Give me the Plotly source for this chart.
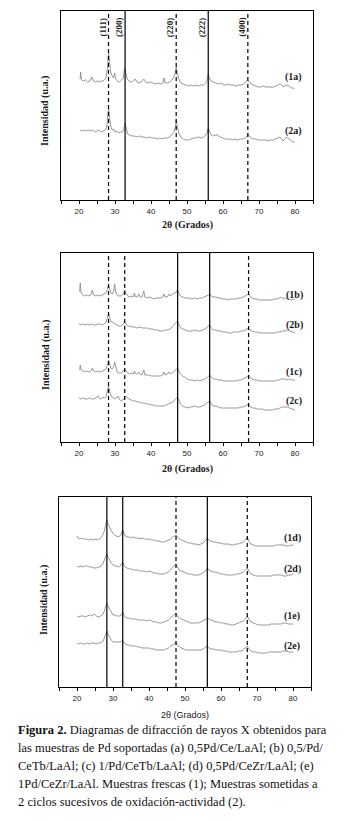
import plotly.graph_objects as go

# ---------------- DATA ----------------
PEAK_LABELS = ["(111)", "(200)", "(220)", "(222)", "(400)"]
PEAKS_A = [28.2, 32.8, 47.0, 55.9, 66.9]
PEAKS_B = [28.2, 32.7, 47.4, 56.3, 67.1]
PEAKS_C = [28.3, 32.7, 47.5, 56.2, 67.3]

TR_1A = [(20.3,121),(20.45,128),(20.7,120),(21.2,119),(21.8,120),(22.4,118),(23.0,119),(23.6,123),(24.0,119),(24.6,118),(25.2,119),(25.8,118),(26.4,119),(27.0,120),(27.5,122),(27.9,131),(28.2,148),(28.5,138),(28.8,128),(29.2,124),(29.6,122),(29.9,127),(30.2,121),(30.7,119),(31.2,118),(31.8,120),(32.3,122),(32.7,132),(33.0,128),(33.4,121),(33.9,119),(34.5,118),(35.1,119),(35.6,121),(36.1,118),(36.7,117),(37.3,118),(38.0,121),(38.5,118),(39.2,117),(39.9,118),(40.6,117),(41.3,116),(42.0,117),(42.7,116),(43.3,117),(43.6,122),(43.9,117),(44.5,117),(45.2,118),(45.8,120),(46.3,123),(46.7,127),(47.0,133),(47.3,127),(47.7,121),(48.3,117),(49.0,116),(49.7,115),(50.4,114),(51.1,115),(51.8,114),(52.5,115),(53.2,114),(53.9,115),(54.6,115),(55.2,117),(55.6,120),(55.9,126),(56.2,122),(56.7,119),(57.3,118),(58.0,117),(58.7,116),(59.4,117),(60.1,115),(60.8,115),(61.5,116),(62.2,115),(62.9,115),(63.6,114),(64.3,115),(65.0,115),(65.7,116),(66.3,118),(66.9,120),(67.3,118),(67.8,116),(68.4,115),(69.1,114),(69.8,113),(70.5,113),(71.2,114),(71.9,113),(72.6,113),(73.3,113),(74.0,113),(74.7,114),(75.3,115),(75.8,116),(76.3,115),(76.7,113),(77.1,114),(77.6,115),(78.0,115),(78.5,113),(79.0,112),(79.5,112),(79.9,111)]
TR_2A = [(20.3,70),(20.8,69),(21.4,70),(22.0,69),(22.6,70),(23.2,69),(23.8,70),(24.4,68),(25.0,69),(25.6,70),(26.2,68),(26.8,69),(27.3,70),(27.7,73),(28.0,84),(28.2,92),(28.5,82),(28.8,74),(29.2,70),(29.6,71),(30.0,68),(30.5,69),(31.0,67),(31.5,68),(32.0,68),(32.4,70),(32.8,77),(33.1,72),(33.5,66),(34.0,65),(34.7,64),(35.4,64),(36.1,63),(36.8,64),(37.5,63),(38.2,63),(38.9,62),(39.6,63),(40.3,62),(41.0,62),(41.7,61),(42.4,62),(43.1,61),(43.8,62),(44.5,62),(45.2,63),(45.8,65),(46.4,68),(46.8,73),(47.0,80),(47.3,74),(47.7,67),(48.3,63),(49.0,61),(49.7,60),(50.4,60),(51.1,61),(51.8,62),(52.5,62),(53.2,63),(53.9,62),(54.6,63),(55.2,65),(55.6,67),(55.9,72),(56.2,69),(56.7,65),(57.3,64),(57.9,65),(58.5,65),(59.2,63),(59.9,62),(60.6,61),(61.3,61),(62.0,61),(62.7,60),(63.4,61),(64.1,60),(64.8,61),(65.5,61),(66.1,62),(66.6,63),(66.9,66),(67.3,64),(67.8,62),(68.4,61),(69.1,61),(69.8,60),(70.5,60),(71.2,60),(71.9,60),(72.6,59),(73.3,60),(74.0,60),(74.7,61),(75.3,62),(75.8,63),(76.3,61),(76.7,59),(77.2,61),(77.6,63),(78.0,62),(78.5,60),(79.0,59),(79.5,58),(79.9,58)]

TR_1B = [(20.2,150),(20.35,159),(20.6,149),(21.0,147),(21.6,146),(22.2,147),(22.8,146),(23.3,147),(23.7,152),(24.1,147),(24.7,146),(25.3,147),(25.9,146),(26.5,147),(27.0,148),(27.5,149),(27.9,153),(28.2,157),(28.5,153),(28.8,149),(29.2,148),(29.6,150),(29.9,158),(30.2,150),(30.6,147),(31.1,146),(31.6,146),(32.1,147),(32.4,149),(32.7,152),(33.0,149),(33.5,146),(34.0,145),(34.6,146),(35.1,145),(35.4,149),(35.7,145),(36.2,145),(36.6,148),(37.0,145),(37.5,145),(38.0,151),(38.3,145),(38.9,144),(39.5,145),(40.1,144),(40.8,143),(41.4,144),(42.0,144),(42.6,144),(43.2,145),(43.6,148),(43.9,145),(44.5,145),(45.0,148),(45.3,146),(45.8,147),(46.3,149),(46.8,149),(47.1,150),(47.4,152),(47.7,149),(48.2,146),(48.8,145),(49.4,144),(50.0,144),(50.7,144),(51.4,143),(52.1,144),(52.8,143),(53.5,144),(54.2,144),(54.9,145),(55.5,146),(56.0,147),(56.3,148),(56.7,146),(57.3,145),(58.0,145),(58.7,144),(59.4,144),(60.1,143),(60.8,143),(61.5,142),(62.2,143),(62.9,143),(63.6,143),(64.3,144),(65.0,144),(65.6,145),(66.2,146),(66.7,147),(67.1,148),(67.5,146),(68.0,144),(68.7,143),(69.4,143),(70.1,142),(70.8,142),(71.5,142),(72.2,142),(72.9,142),(73.6,142),(74.3,143),(75.0,143),(75.6,144),(76.1,145),(76.6,143),(77.2,144),(77.8,143),(78.4,143),(79.0,142),(79.6,143),(80.0,142)]
TR_2B = [(20.0,118),(20.5,117),(21.1,118),(21.7,117),(22.3,118),(22.9,117),(23.5,118),(24.1,117),(24.7,117),(25.3,118),(25.9,118),(26.5,117),(27.0,118),(27.5,120),(27.9,124),(28.2,129),(28.5,125),(28.8,121),(29.2,120),(29.6,119),(30.0,118),(30.5,117),(31.0,116),(31.5,116),(32.0,117),(32.4,118),(32.7,120),(33.0,118),(33.5,116),(34.1,116),(34.8,115),(35.5,115),(36.2,114),(36.9,115),(37.6,114),(38.3,114),(39.0,114),(39.7,113),(40.4,113),(41.1,112),(41.8,112),(42.5,111),(43.2,111),(43.9,112),(44.6,112),(45.3,113),(45.9,115),(46.5,117),(47.0,119),(47.4,121),(47.8,117),(48.3,114),(48.9,113),(49.5,112),(50.1,111),(50.8,111),(51.5,111),(52.2,112),(52.9,111),(53.6,111),(54.3,112),(55.0,113),(55.6,115),(56.0,116),(56.3,117),(56.7,114),(57.3,112),(58.0,112),(58.7,111),(59.4,111),(60.1,110),(60.8,110),(61.5,109),(62.2,109),(62.9,110),(63.6,110),(64.3,110),(65.0,111),(65.6,111),(66.2,112),(66.7,113),(67.1,114),(67.5,112),(68.1,111),(68.8,110),(69.5,110),(70.2,109),(70.9,109),(71.6,109),(72.3,109),(73.0,109),(73.7,109),(74.4,109),(75.1,110),(75.8,110),(76.5,111),(77.2,111),(77.9,112),(78.5,111),(79.1,110),(79.7,109),(80.0,109)]
TR_1C = [(20.2,72),(20.35,77),(20.6,72),(21.0,71),(21.6,70),(22.2,71),(22.8,70),(23.3,71),(23.7,74),(24.1,71),(24.7,70),(25.3,71),(25.9,70),(26.5,71),(27.0,72),(27.5,73),(27.9,77),(28.2,82),(28.5,78),(28.8,74),(29.2,73),(29.6,75),(29.9,80),(30.2,74),(30.6,70),(31.1,69),(31.6,69),(32.1,70),(32.4,71),(32.7,73),(33.0,71),(33.5,69),(34.0,68),(34.6,69),(35.1,68),(35.4,71),(35.7,68),(36.2,68),(36.6,70),(37.0,68),(37.5,67),(38.0,72),(38.3,67),(38.9,67),(39.5,67),(40.1,66),(40.8,66),(41.4,66),(42.0,66),(42.6,66),(43.2,67),(43.6,70),(43.9,67),(44.5,68),(45.0,70),(45.3,68),(45.8,69),(46.3,71),(46.8,72),(47.1,73),(47.4,74),(47.7,71),(48.2,68),(48.8,66),(49.4,65),(50.0,63),(50.7,62),(51.4,62),(52.1,61),(52.8,62),(53.5,61),(54.2,62),(54.9,63),(55.5,64),(56.0,66),(56.3,67),(56.7,65),(57.3,63),(58.0,63),(58.7,62),(59.4,62),(60.1,61),(60.8,61),(61.5,61),(62.2,61),(62.9,61),(63.6,61),(64.3,62),(65.0,62),(65.6,63),(66.2,64),(66.7,65),(67.1,67),(67.5,65),(68.0,63),(68.7,62),(69.4,62),(70.1,61),(70.8,61),(71.5,61),(72.2,61),(72.9,61),(73.6,61),(74.3,61),(75.0,62),(75.6,62),(76.1,63),(76.6,63),(77.2,63),(77.8,62),(78.4,63),(79.0,62),(79.6,62),(80.0,62)]
TR_2C = [(20.0,44),(20.5,43),(21.1,44),(21.7,43),(22.3,43),(22.9,44),(23.5,43),(24.1,43),(24.7,44),(25.2,46),(25.6,44),(26.1,43),(26.6,45),(27.0,44),(27.5,45),(27.9,50),(28.2,56),(28.5,51),(28.8,47),(29.2,45),(29.6,44),(30.0,43),(30.4,44),(30.8,46),(31.2,43),(31.7,41),(32.1,42),(32.4,43),(32.7,45),(33.0,46),(33.4,44),(33.9,43),(34.5,42),(35.1,41),(35.7,41),(36.3,40),(36.9,40),(37.5,39),(38.1,39),(38.7,38),(39.3,38),(40.0,37),(40.7,37),(41.4,36),(42.1,36),(42.8,36),(43.5,36),(44.2,37),(44.9,38),(45.5,39),(46.1,40),(46.6,42),(47.0,44),(47.4,45),(47.7,42),(48.2,38),(48.8,36),(49.4,35),(50.0,34),(50.7,35),(51.4,35),(52.1,36),(52.8,35),(53.5,35),(54.2,36),(54.9,37),(55.5,39),(56.0,40),(56.3,41),(56.7,38),(57.3,36),(58.0,36),(58.7,35),(59.4,34),(60.1,34),(60.8,34),(61.5,34),(62.2,34),(62.9,34),(63.6,34),(64.3,34),(65.0,35),(65.6,35),(66.2,36),(66.7,37),(67.1,38),(67.5,36),(68.1,34),(68.8,34),(69.5,33),(70.2,33),(70.9,33),(71.6,32),(72.3,32),(73.0,32),(73.7,32),(74.4,33),(75.1,33),(75.8,34),(76.5,35),(77.2,35),(77.9,35),(78.5,34),(79.1,33),(79.7,32),(80.0,32)]

TR_1D = [(20.0,151),(20.3,149),(20.8,148),(21.4,149),(22.0,148),(22.6,148),(23.2,147),(23.8,148),(24.4,147),(25.0,148),(25.6,147),(26.1,148),(26.6,149),(27.0,151),(27.4,154),(27.8,159),(28.1,164),(28.3,167),(28.6,163),(29.0,160),(29.4,157),(29.9,154),(30.4,152),(30.9,151),(31.4,150),(31.9,151),(32.3,153),(32.7,157),(33.0,154),(33.4,151),(33.9,150),(34.5,150),(35.1,149),(35.7,150),(36.3,149),(36.9,149),(37.5,148),(38.1,149),(38.7,148),(39.3,148),(40.0,148),(40.7,147),(41.4,147),(42.1,146),(42.8,146),(43.5,145),(44.2,145),(44.8,146),(45.4,147),(46.0,148),(46.6,150),(47.1,151),(47.5,152),(47.9,150),(48.4,148),(49.0,147),(49.6,146),(50.2,145),(50.9,144),(51.6,144),(52.3,143),(53.0,143),(53.7,142),(54.4,143),(55.0,144),(55.5,146),(55.9,147),(56.2,149),(56.6,147),(57.2,146),(57.9,145),(58.6,145),(59.3,144),(60.0,144),(60.7,143),(61.4,143),(62.1,143),(62.8,142),(63.5,142),(64.2,143),(64.9,143),(65.6,144),(66.2,145),(66.8,147),(67.3,150),(67.7,146),(68.3,143),(69.0,142),(69.7,141),(70.4,141),(71.1,141),(71.8,141),(72.5,141),(73.2,141),(73.9,141),(74.6,141),(75.3,142),(76.0,142),(76.7,142),(77.4,142),(78.1,141),(78.8,141),(79.5,142),(80.1,142)]
TR_2D = [(20.0,121),(20.5,120),(21.1,121),(21.7,120),(22.3,121),(22.9,121),(23.5,120),(24.1,120),(24.7,119),(25.3,119),(25.9,120),(26.4,120),(26.9,122),(27.3,124),(27.7,128),(28.0,131),(28.3,133),(28.6,130),(29.0,127),(29.5,124),(30.0,122),(30.5,121),(31.0,121),(31.5,120),(32.0,121),(32.4,123),(32.7,125),(33.0,122),(33.4,120),(33.9,119),(34.5,118),(35.1,118),(35.7,117),(36.3,117),(36.9,117),(37.5,116),(38.1,116),(38.7,116),(39.3,115),(40.0,116),(40.7,115),(41.4,114),(42.1,114),(42.8,113),(43.5,113),(44.2,113),(44.8,114),(45.4,115),(46.0,117),(46.6,119),(47.1,121),(47.5,123),(47.9,120),(48.4,117),(49.0,116),(49.6,115),(50.2,114),(50.9,113),(51.6,113),(52.3,112),(53.0,112),(53.7,112),(54.4,113),(55.0,114),(55.5,116),(55.9,117),(56.2,119),(56.6,117),(57.2,116),(57.9,115),(58.6,115),(59.3,114),(60.0,113),(60.7,113),(61.4,112),(62.1,112),(62.8,112),(63.5,112),(64.2,113),(64.9,113),(65.6,114),(66.2,115),(66.8,117),(67.3,119),(67.7,116),(68.3,113),(69.0,112),(69.7,111),(70.4,111),(71.1,111),(71.8,111),(72.5,111),(73.2,111),(73.9,111),(74.6,112),(75.3,112),(76.0,112),(76.7,112),(77.4,111),(78.1,111),(78.8,112),(79.5,112),(80.1,113)]
TR_1E = [(20.0,71),(20.5,70),(21.1,71),(21.7,71),(22.3,70),(22.9,71),(23.5,72),(24.1,71),(24.8,73),(25.4,71),(26.0,70),(26.5,71),(27.0,72),(27.4,74),(27.8,78),(28.1,82),(28.3,84),(28.6,81),(29.0,78),(29.5,75),(30.0,72),(30.5,72),(31.0,71),(31.5,71),(32.0,71),(32.4,73),(32.7,75),(33.0,72),(33.4,70),(33.9,69),(34.5,69),(35.1,68),(35.7,68),(36.3,68),(36.9,67),(37.5,67),(38.1,67),(38.7,67),(39.3,66),(40.0,67),(40.7,66),(41.4,65),(42.1,65),(42.8,64),(43.5,64),(44.2,65),(44.8,66),(45.4,67),(46.0,69),(46.6,71),(47.1,73),(47.5,74),(47.9,71),(48.4,69),(49.0,68),(49.6,67),(50.2,66),(50.9,65),(51.6,64),(52.3,64),(53.0,64),(53.7,64),(54.4,65),(55.0,66),(55.5,67),(55.9,68),(56.2,69),(56.6,68),(57.2,67),(57.9,66),(58.6,65),(59.3,65),(60.0,64),(60.7,64),(61.4,63),(62.1,63),(62.8,62),(63.5,62),(64.2,63),(64.9,64),(65.6,65),(66.2,66),(66.8,68),(67.3,71),(67.7,68),(68.3,65),(69.0,64),(69.7,63),(70.4,62),(71.1,62),(71.8,62),(72.5,62),(73.2,62),(73.9,63),(74.6,63),(75.3,63),(76.0,63),(76.7,63),(77.4,64),(78.1,64),(78.8,63),(79.5,63),(80.1,63)]
TR_2E = [(20.0,44),(20.5,43),(21.1,44),(21.7,43),(22.3,43),(22.9,44),(23.5,43),(24.1,44),(24.7,44),(25.3,43),(25.9,44),(26.4,44),(26.9,45),(27.3,46),(27.7,50),(28.0,54),(28.3,56),(28.6,53),(29.0,50),(29.5,47),(30.0,45),(30.5,45),(31.0,45),(31.5,45),(32.0,45),(32.4,46),(32.7,46),(33.0,44),(33.4,43),(33.9,42),(34.5,42),(35.1,41),(35.7,41),(36.3,41),(36.9,40),(37.5,40),(38.1,39),(38.7,39),(39.3,39),(40.0,39),(40.7,38),(41.4,38),(42.1,37),(42.8,37),(43.5,37),(44.2,37),(44.8,38),(45.4,39),(46.0,41),(46.6,42),(47.1,43),(47.5,45),(47.9,42),(48.4,40),(49.0,39),(49.6,38),(50.2,37),(50.9,37),(51.6,37),(52.3,37),(53.0,37),(53.7,37),(54.4,37),(55.0,38),(55.5,39),(55.9,40),(56.2,41),(56.6,39),(57.2,38),(57.9,38),(58.6,37),(59.3,37),(60.0,37),(60.7,36),(61.4,36),(62.1,35),(62.8,35),(63.5,35),(64.2,35),(64.9,36),(65.6,36),(66.2,37),(66.8,39),(67.3,41),(67.7,38),(68.3,36),(69.0,35),(69.7,35),(70.4,34),(71.1,34),(71.8,34),(72.5,34),(73.2,35),(73.9,35),(74.6,35),(75.3,35),(76.0,35),(76.7,35),(77.4,36),(78.1,36),(78.8,35),(79.5,35),(80.1,35)]

TICK_VALS = [20, 30, 40, 50, 60, 70, 80]

CAPTION = [
    "<b>Figura 2.</b> Diagramas de difracción de rayos X obtenidos para",
    "las muestras de Pd soportadas (a) 0,5Pd/Ce/LaAl; (b) 0,5/Pd/",
    "CeTb/LaAl; (c) 1/Pd/CeTb/LaAl; (d) 0,5Pd/CeZr/LaAl; (e)",
    "1Pd/CeZr/LaAl. Muestras frescas (1); Muestras sometidas a",
    "2 ciclos sucesivos de oxidación-actividad (2).",
]

# ---------------- LAYOUT ----------------
W, H = 345, 821
SERIF = "Liberation Serif, Times New Roman, serif"
SANS = "Liberation Sans, Arial, sans-serif"
DASH = "4px,3px"

def px_x(p):
    return p / W

def px_y(p):
    return 1 - p / H

panels = [
    dict(n=1, box=(53, 305, 3, 192), yr=189, peaks=PEAKS_A,
         dash=[DASH, "solid", DASH, "solid", DASH],
         traces=[(TR_1A, "(1a)", 12), (TR_2A, "(2a)", 11)],
         ytitle=(37, 103), xtitle=217, bold=True, hkl=True),
    dict(n=2, box=(53, 305, 245, 434), yr=189, peaks=PEAKS_B,
         dash=[DASH, DASH, "solid", "solid", DASH],
         traces=[(TR_1B, "(1b)", 5), (TR_2B, "(2b)", 8), (TR_1C, "(1c)", 8), (TR_2C, "(2c)", 9)],
         ytitle=(38, 347), xtitle=461, bold=True, hkl=False),
    dict(n=3, box=(51, 303, 489, 679), yr=190, peaks=PEAKS_C,
         dash=["solid", "solid", DASH, "solid", DASH],
         traces=[(TR_1D, "(1d)", 7), (TR_2D, "(2d)", 5), (TR_1E, "(1e)", 8), (TR_2E, "(2e)", 6)],
         ytitle=(36, 592), xtitle=707, bold=False, hkl=False),
]

fig = go.Figure()
annotations = []
shapes = []
layout_axes = {}

for p in panels:
    n = p["n"]
    xa = "x" if n == 1 else f"x{n}"
    ya = "y" if n == 1 else f"y{n}"
    x0, x1, y0, y1 = p["box"]
    layout_axes["xaxis" if n == 1 else f"xaxis{n}"] = dict(
        domain=[px_x(x0), px_x(x1)], range=[15, 85], anchor=ya,
        showline=True, mirror=True, linecolor="black", linewidth=1.2,
        showgrid=False, zeroline=False,
        tickvals=TICK_VALS, ticks="outside", ticklen=3, tickwidth=1, tickcolor="black",
        minor=dict(tickvals=[15, 25, 35, 45, 55, 65, 75, 85], ticks="outside", ticklen=3, tickcolor="black"),
        tickfont=dict(family=SANS, size=8, color="#222"),
    )
    layout_axes["yaxis" if n == 1 else f"yaxis{n}"] = dict(
        domain=[px_y(y1), px_y(y0)], range=[0, p["yr"]], anchor=xa,
        showline=True, mirror=True, linecolor="black", linewidth=1.2,
        showgrid=False, zeroline=False, showticklabels=False, ticks="",
    )
    for tr, label, dy in p["traces"]:
        xs = [q[0] for q in tr]
        ys = [q[1] for q in tr]
        fig.add_trace(go.Scatter(x=xs, y=ys, mode="lines", xaxis=xa, yaxis=ya,
                                 line=dict(color="#8c8c8c", width=0.9), showlegend=False,
                                 hoverinfo="skip"))
        annotations.append(dict(x=xs[-1], y=ys[-1], xref=xa, yref=ya, text=f"<b>{label}</b>",
                                showarrow=False, xanchor="center", yanchor="middle",
                                xshift=-1, yshift=dy,
                                font=dict(family=SERIF, size=10, color="#1a1a1a")))
    for i, pk in enumerate(p["peaks"]):
        shapes.append(dict(type="line", xref=xa, yref=f"{ya} domain", x0=pk, x1=pk, y0=0, y1=1,
                           line=dict(color="black", width=1.2, dash=p["dash"][i])))
        if p["hkl"]:
            annotations.append(dict(x=pk, y=px_y(19), xref=xa, yref="paper", text=f"<b>{PEAK_LABELS[i]}</b>",
                                    showarrow=False, textangle=-90, xanchor="center", yanchor="middle",
                                    xshift=-6, font=dict(family=SERIF, size=9, color="#1a1a1a")))
    cx = (x0 + x1) / 2
    if p["bold"]:
        xt = "<b>2θ (Grados)</b>"
        xf = dict(family=SERIF, size=10, color="#1a1a1a")
    else:
        xt = "2θ (Grados)"
        xf = dict(family=SANS, size=9, color="#1a1a1a")
    annotations.append(dict(x=px_x(cx), y=px_y(p["xtitle"]), xref="paper", yref="paper", text=xt,
                            showarrow=False, xanchor="center", yanchor="middle", font=xf))
    annotations.append(dict(x=px_x(p["ytitle"][0]), y=px_y(p["ytitle"][1]), xref="paper", yref="paper",
                            text="<b>Intensidad (u.a.)</b>", showarrow=False, textangle=-90,
                            xanchor="center", yanchor="middle",
                            font=dict(family=SERIF, size=10, color="#1a1a1a")))

for i, line in enumerate(CAPTION):
    annotations.append(dict(x=px_x(8), y=px_y(722 + i * 17.9), xref="paper", yref="paper", text=line,
                            showarrow=False, xanchor="left", yanchor="middle",
                            font=dict(family=SERIF, size=12.5, color="#111")))

fig.update_layout(
    width=W, height=H, margin=dict(l=0, r=0, t=0, b=0),
    paper_bgcolor="white", plot_bgcolor="white",
    annotations=annotations, shapes=shapes, showlegend=False,
    **layout_axes,
)

fig.write_html("out.html")
